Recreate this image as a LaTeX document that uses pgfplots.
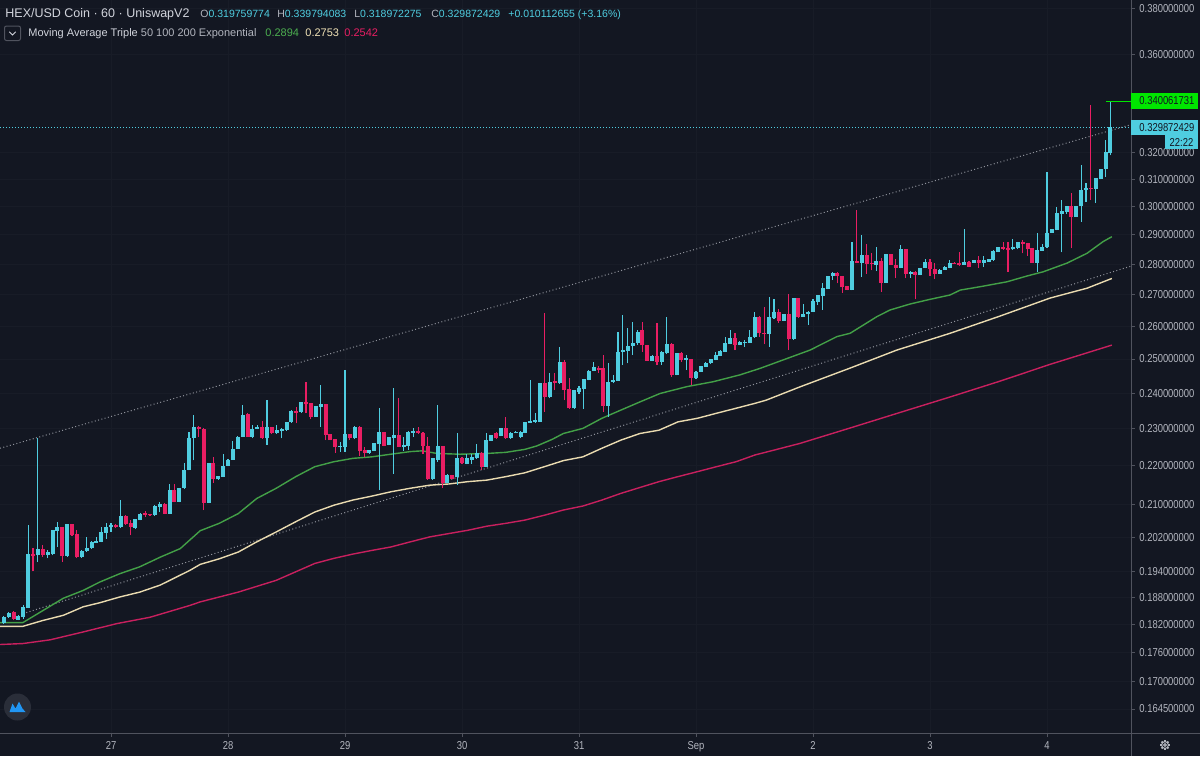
\documentclass[border=0pt]{standalone}
\usepackage{pgfplots}
\usepackage{pgfplotstable}
\pgfplotsset{compat=1.18}
\usepackage{fontspec}
\setmainfont{Liberation Sans}
\newfontfamily\scalefont{Liberation Sans}[FakeStretch=0.82]

\definecolor{bg}{HTML}{131722}
\definecolor{upc}{HTML}{4FCDE0}
\definecolor{dnc}{HTML}{E91E63}
\definecolor{emaA}{HTML}{43A047}
\definecolor{emaB}{HTML}{EADBB0}
\definecolor{emaC}{HTML}{C8205E}
\definecolor{trend}{HTML}{8F929B}
\definecolor{sepc}{HTML}{50535E}
\definecolor{gridc}{HTML}{181C27}
\definecolor{lbl}{HTML}{B2B5BE}
\definecolor{txt}{HTML}{D1D4DC}
\definecolor{lime}{HTML}{00E600}
\definecolor{valA}{HTML}{4CAF50}
\definecolor{valB}{HTML}{F0E2B6}
\definecolor{logoc}{HTML}{2A2E39}
\definecolor{logob}{HTML}{2196F3}

\newcommand\axfont{\scalefont\fontsize{5.75pt}{6pt}\selectfont}

% hourly candles: h = hours since 27 Aug 00:00, open high low close
\pgfplotstableread{
h o hi lo c
-22 .1823 .1838 .1822 .1837
-21 .1836 .1847 .1835 .1845
-19 .1831 .1840 .1829 .1838
-18 .1837 .1862 .1832 .1859
-17 .1857 .2050 .1856 .1980
-15 .1977 .2274 .1961 .1993
-13 .1979 .1989 .1970 .1985
-12 .1981 .2038 .1977 .2037
-11 .2036 .2058 .1997 .2044
-9 .1975 .2053 .1974 .2052
-6 .1972 .1989 .1971 .1987
-5 .1987 .2020 .1986 .1995
-4 .1995 .2011 .1993 .2009
-3 .2007 .2021 .2006 .2012
-2 .2009 .2044 .2008 .2033
-1 .2031 .2054 .2017 .2046
0 .2044 .2054 .2033 .2050
2 .2044 .2112 .2042 .2072
5 .2042 .2065 .2040 .2064
6 .2062 .2079 .2061 .2078
9 .2074 .2099 .2073 .2097
10 .2095 .2107 .2083 .2103
12 .2078 .2153 .2077 .2137
14 .2107 .2143 .2106 .2142
15 .2142 .2207 .2141 .2189
16 .2189 .2292 .2188 .2274
17 .2274 .2338 .2215 .2304
20 .2105 .2209 .2104 .2208
22 .2165 .2174 .2164 .2173
23 .2172 .2231 .2171 .2200
24 .2200 .2218 .2199 .2217
25 .2217 .2267 .2216 .2246
26 .2246 .2279 .2245 .2278
27 .2278 .2366 .2277 .2338
29 .2278 .2310 .2274 .2299
30 .2299 .2310 .2298 .2305
32 .2274 .2381 .2256 .2304
34 .2287 .2310 .2285 .2296
35 .2293 .2302 .2274 .2299
36 .2296 .2319 .2295 .2318
37 .2318 .2352 .2317 .2350
39 .2346 .2375 .2345 .2374
42 .2333 .2364 .2332 .2363
43 .2361 .2424 .2305 .2368
47 .2249 .2265 .2237 .2254
48 .2251 .2467 .2237 .2285
50 .2274 .2307 .2273 .2306
53 .2233 .2243 .2232 .2242
54 .2240 .2261 .2239 .2260
55 .2258 .2357 .2137 .2290
57 .2256 .2278 .2255 .2277
58 .2274 .2414 .2180 .2283
60 .2251 .2278 .2240 .2256
61 .2254 .2293 .2242 .2292
62 .2289 .2301 .2277 .2295
66 .2165 .2221 .2163 .2220
67 .2217 .2366 .2211 .2253
69 .2156 .2178 .2155 .2176
71 .2170 .2287 .2150 .2222
73 .2205 .2231 .2204 .2220
74 .2217 .2231 .2205 .2223
75 .2220 .2258 .2219 .2235
77 .2198 .2287 .2197 .2269
78 .2267 .2284 .2266 .2283
80 .2280 .2302 .2279 .2301
82 .2274 .2290 .2273 .2289
83 .2288 .2293 .2287 .2292
84 .2277 .2293 .2274 .2292
85 .2289 .2320 .2288 .2319
86 .2317 .2438 .2316 .2322
87 .2318 .2343 .2317 .2323
88 .2319 .2429 .2318 .2428
90 .2390 .2458 .2385 .2433
92 .2428 .2537 .2427 .2492
95 .2357 .2410 .2356 .2409
96 .2404 .2420 .2398 .2414
97 .2411 .2441 .2356 .2440
98 .2438 .2467 .2437 .2465
99 .2465 .2492 .2464 .2475
102 .2363 .2489 .2332 .2433
103 .2433 .2453 .2428 .2438
104 .2436 .2583 .2435 .2522
105 .2522 .2635 .2482 .2528
106 .2525 .2594 .2487 .2540
107 .2540 .2612 .2512 .2548
108 .2547 .2589 .2542 .2583
111 .2495 .2512 .2494 .2510
113 .2492 .2523 .2482 .2522
114 .2517 .2630 .2516 .2545
116 .2453 .2518 .2452 .2517
118 .2497 .2512 .2467 .2503
120 .2443 .2463 .2442 .2462
121 .2462 .2480 .2461 .2479
122 .2477 .2490 .2476 .2489
123 .2487 .2500 .2486 .2499
124 .2497 .2522 .2496 .2512
125 .2509 .2526 .2508 .2525
126 .2522 .2568 .2521 .2547
127 .2545 .2587 .2544 .2565
129 .2542 .2553 .2541 .2552
130 .2547 .2558 .2537 .2552
131 .2549 .2587 .2548 .2568
132 .2566 .2646 .2565 .2630
135 .2576 .2692 .2537 .2628
136 .2625 .2686 .2624 .2646
138 .2617 .2639 .2616 .2638
140 .2560 .2689 .2559 .2688
142 .2630 .2670 .2629 .2638
143 .2638 .2647 .2604 .2646
144 .2646 .2685 .2645 .2681
145 .2677 .2700 .2667 .2699
146 .2696 .2737 .2651 .2721
147 .2718 .2762 .2717 .2761
148 .2761 .2773 .2748 .2772
152 .2715 .2874 .2714 .2811
154 .2806 .2900 .2757 .2831
157 .2798 .2859 .2777 .2811
159 .2739 .2835 .2738 .2834
162 .2787 .2866 .2786 .2852
164 .2768 .2776 .2754 .2775
166 .2764 .2788 .2763 .2787
167 .2787 .2817 .2786 .2809
170 .2768 .2783 .2767 .2782
171 .2782 .2793 .2781 .2791
172 .2787 .2815 .2786 .2806
175 .2798 .2920 .2797 .2809
177 .2806 .2816 .2805 .2815
179 .2806 .2828 .2791 .2813
180 .2809 .2818 .2808 .2817
181 .2813 .2847 .2812 .2846
182 .2842 .2858 .2841 .2857
185 .2850 .2885 .2849 .2857
186 .2854 .2875 .2850 .2874
190 .2806 .2908 .2775 .2849
191 .2846 .2869 .2845 .2857
192 .2857 .3128 .2856 .2908
193 .2908 .2921 .2907 .2920
194 .2917 .3000 .2916 .2978
195 .2975 .3024 .2840 .2985
196 .2982 .3004 .2973 .3003
198 .2964 .3002 .2963 .3001
199 .3001 .3153 .2946 .3061
200 .3061 .3085 .3018 .3067
202 .3064 .3105 .3013 .3104
203 .3100 .3138 .3099 .3137
204 .3137 .3249 .3110 .3204
205 .319759774 .339794083 .318972275 .329872429
}\upbars

\pgfplotstableread{
h o hi lo c
-20 .1847 .1849 .1829 .1832
-16 .1980 .1994 .1940 .1975
-14 .1993 .2001 .1973 .1979
-10 .2044 .2046 .1961 .1975
-8 .2052 .2053 .2024 .2025
-7 .2028 .2037 .1970 .1972
1 .2050 .2052 .2042 .2044
3 .2072 .2074 .2050 .2052
4 .2054 .2062 .2025 .2046
7 .2079 .2085 .2070 .2075
8 .2077 .2078 .2073 .2074
11 .2103 .2104 .2077 .2078
13 .2137 .2154 .2106 .2107
18 .2304 .2308 .2278 .2299
19 .2299 .2301 .2087 .2105
21 .2208 .2224 .2156 .2165
28 .2341 .2344 .2277 .2278
31 .2304 .2322 .2273 .2274
33 .2304 .2305 .2285 .2287
38 .2350 .2361 .2315 .2345
40 .2374 .2433 .2345 .2368
41 .2371 .2372 .2326 .2333
44 .2368 .2369 .2269 .2283
45 .2285 .2286 .2268 .2269
46 .2271 .2272 .2235 .2249
49 .2285 .2286 .2269 .2274
51 .2306 .2307 .2226 .2240
52 .2242 .2251 .2223 .2235
56 .2290 .2291 .2253 .2254
59 .2283 .2385 .2250 .2251
63 .2294 .2304 .2286 .2289
64 .2289 .2290 .2231 .2254
65 .2254 .2278 .2164 .2165
68 .2253 .2254 .2142 .2156
70 .2176 .2177 .2165 .2167
72 .2222 .2223 .2206 .2207
76 .2235 .2236 .2189 .2198
79 .2289 .2292 .2273 .2274
81 .2301 .2332 .2273 .2274
89 .2428 .2641 .2347 .2390
91 .2435 .2458 .2409 .2428
93 .2492 .2497 .2380 .2409
94 .2411 .2443 .2356 .2357
100 .2474 .2479 .2458 .2467
101 .2472 .2512 .2347 .2363
109 .2587 .2612 .2522 .2542
110 .2542 .2543 .2494 .2495
112 .2510 .2609 .2482 .2492
115 .2545 .2548 .2448 .2453
117 .2517 .2522 .2492 .2497
119 .2499 .2500 .2424 .2443
128 .2565 .2578 .2527 .2542
133 .2630 .2631 .2568 .2578
134 .2580 .2662 .2545 .2575
137 .2646 .2655 .2611 .2617
139 .2638 .2702 .2527 .2560
141 .2688 .2689 .2625 .2630
149 .2772 .2773 .2737 .2761
150 .2761 .2762 .2707 .2726
151 .2728 .2729 .2714 .2715
153 .2811 .2988 .2804 .2805
155 .2831 .2869 .2768 .2802
156 .2806 .2839 .2780 .2801
158 .2811 .2820 .2710 .2739
160 .2834 .2835 .2797 .2798
161 .2798 .2818 .2754 .2787
163 .2852 .2853 .2754 .2768
165 .2775 .2776 .2685 .2764
168 .2809 .2817 .2761 .2784
169 .2784 .2806 .2751 .2768
173 .2806 .2807 .2801 .2802
174 .2806 .2842 .2793 .2798
176 .2809 .2810 .2790 .2791
178 .2815 .2828 .2787 .2806
183 .2857 .2877 .2849 .2850
184 .2854 .2874 .2775 .2849
187 .2877 .2883 .2837 .2869
188 .2871 .2872 .2828 .2850
189 .2854 .2855 .2804 .2806
197 .3003 .3050 .2854 .2964
201 .3067 .3388 .3024 .3064
}\dnbars

\begin{document}
\begin{tikzpicture}
\path[use as bounding box] (0,0) rectangle (600pt,-378pt);
\fill[bg] (0,0) rectangle (600pt,-378pt);

\begin{axis}[
  at={(0,0)}, anchor=north west,
  scale only axis, width=565.5pt, height=366.5pt,
  xmin=-22.77, xmax=209.23,
  ymode=log, ymin=0.15984, ymax=0.38413,
  axis x line*=bottom, axis y line*=right,
  axis line style={draw=none},
  tick align=outside, major tick length=2pt,
  tick style={draw=sepc, line width=0.5pt},
  minor tick num=0,
  grid=major, grid style={draw=gridc, line width=0.5pt},
  xtick={0,24,...,192},
  xticklabels={27,28,29,30,31,Sep,2,3,4},
  ytick={0.38,0.36,0.32,0.31,0.30,0.29,0.28,0.27,0.26,0.25,0.24,0.23,0.22,0.21,0.202,0.194,0.188,0.182,0.176,0.17,0.1645},
  yticklabels={0.380000000,0.360000000,0.320000000,0.310000000,0.300000000,0.290000000,0.280000000,0.270000000,0.260000000,0.250000000,0.240000000,0.230000000,0.220000000,0.210000000,0.202000000,0.194000000,0.188000000,0.182000000,0.176000000,0.170000000,0.164500000},
  ticklabel style={font=\axfont, text=lbl, inner sep=0pt},
  yticklabel style={anchor=west, xshift=2pt},
  xticklabel style={anchor=north, yshift=-2pt},
]
% channel lines and price line
\addplot[trend, line width=0.5pt, dash pattern=on 0.5pt off 1.2pt] coordinates {(-22.77,0.2247) (209.23,0.3309)};
\addplot[trend, line width=0.5pt, dash pattern=on 0.5pt off 1.2pt] coordinates {(-18.05,0.1844) (209.23,0.2794)};
\addplot[upc, line width=0.5pt, dash pattern=on 0.5pt off 1pt] coordinates {(-22.77,0.329872429) (209.23,0.329872429)};
\addplot[lime, line width=0.6pt] coordinates {(204.1,0.340061731) (209.23,0.340061731)};

% moving averages
\addplot[emaC, line width=0.7pt] coordinates {
(-22.8,.1777) (-18.1,.1779) (-12.5,.1787) (-5.7,.1804) (1.2,.1822) (8.0,.1836)
(16.2,.1862) (18.3,.1870) (26.1,.1892) (33.9,.1919) (41.8,.1958) (45.7,.1970)
(49.6,.1980) (53.5,.1989) (57.4,.1997) (61.4,.2009) (65.4,.2021) (69.3,.2029)
(73.2,.2037) (77.1,.2047) (81.0,.2054) (84.9,.2062) (88.9,.2074) (92.8,.2087)
(96.8,.2097) (100.7,.2112) (104.6,.2129) (108.5,.2144) (112.4,.2159) (116.3,.2172)
(120.3,.2185) (124.2,.2198) (128.2,.2211) (132.1,.2229) (136.0,.2242) (141.3,.2260)
(151.6,.2302) (161.8,.2345) (172.1,.2389) (182.4,.2435) (192.6,.2484) (205.3,.2542)};
\addplot[emaB, line width=0.7pt] coordinates {
(-22.8,.1816) (-18.1,.1816) (-13.9,.1829) (-9.8,.1840) (-5.7,.1859) (-2.3,.1868)
(1.8,.1881) (5.9,.1892) (10.1,.1908) (16.2,.1942) (18.3,.1956) (22.2,.1969)
(26.1,.1985) (29.9,.2009) (33.9,.2033) (37.9,.2058) (41.8,.2082) (45.7,.2099)
(49.6,.2112) (53.5,.2122) (57.4,.2133) (61.4,.2142) (65.4,.2150) (69.3,.2153)
(73.2,.2159) (77.1,.2163) (81.0,.2172) (84.9,.2182) (88.9,.2198) (92.8,.2214)
(96.8,.2224) (100.7,.2247) (104.6,.2269) (108.5,.2287) (112.4,.2296) (116.3,.2319)
(120.3,.2329) (124.2,.2343) (128.2,.2357) (132.1,.2371) (134.4,.2380) (141.3,.2418)
(151.6,.2473) (161.2,.2527) (172.1,.2578) (182.4,.2632) (192.6,.2689) (200.2,.2721)
(205.3,.2753)};
\addplot[emaA, line width=0.7pt] coordinates {
(-22.8,.1824) (-18.1,.1824) (-13.9,.1851) (-9.8,.1878) (-5.7,.1896) (-2.3,.1915)
(1.8,.1934) (5.9,.1950) (10.1,.1973) (14.2,.1993) (18.3,.2036) (22.2,.2054)
(26.1,.2078) (29.9,.2116) (33.9,.2142) (37.9,.2172) (41.8,.2198) (45.7,.2211)
(49.6,.2220) (53.5,.2224) (57.4,.2231) (61.4,.2238) (63.8,.2240) (66.9,.2233)
(71.6,.2231) (77.1,.2233) (81.0,.2236) (84.9,.2244) (87.3,.2253) (90.5,.2271)
(92.8,.2287) (96.8,.2301) (100.7,.2329) (104.6,.2352) (108.5,.2375) (112.6,.2399)
(118.2,.2419) (123.5,.2433) (129.0,.2453) (133.1,.2472) (143.4,.2527) (148.9,.2568)
(151.6,.2578) (157.1,.2630) (159.8,.2651) (163.9,.2670) (168.0,.2685) (172.1,.2699)
(174.2,.2715) (178.3,.2726) (183.8,.2742) (187.9,.2761) (191.2,.2775) (196.1,.2804)
(200.2,.2837) (203.5,.2877) (205.3,.2894)};

% candle wicks
\addplot[draw=none, forget plot, error bars/.cd, y dir=plus, y explicit, error mark=none,
  error bar style={draw=upc, line width=0.55pt}]
  table[x=h, y=lo, y error expr=\thisrow{hi}-\thisrow{lo}] {\upbars};
\addplot[draw=none, forget plot, error bars/.cd, y dir=plus, y explicit, error mark=none,
  error bar style={draw=dnc, line width=0.55pt}]
  table[x=h, y=lo, y error expr=\thisrow{hi}-\thisrow{lo}] {\dnbars};
% candle bodies
\addplot[draw=none, forget plot, error bars/.cd, y dir=plus, y explicit, error mark=none,
  error bar style={draw=upc, line width=2pt}]
  table[x=h, y=o, y error expr=\thisrow{c}-\thisrow{o}] {\upbars};
\addplot[draw=none, forget plot, error bars/.cd, y dir=plus, y explicit, error mark=none,
  error bar style={draw=dnc, line width=2pt}]
  table[x=h, y=c, y error expr=\thisrow{o}-\thisrow{c}] {\dnbars};
\end{axis}

\begin{scope}[x=0.5pt, y=-0.5pt]
% scale separators
\draw[sepc, line width=0.5pt] (1131,0) -- (1131,756);
\draw[sepc, line width=0.5pt] (0,733) -- (1200,733);

% price labels on the scale
\fill[lime] (1131,93) rectangle (1198,108.5);
\node[anchor=west, inner sep=0pt, text=bg, font=\axfont] at (1139,100.7) {0.340061731};
\fill[upc] (1131,119.5) rectangle (1198,135);
\node[anchor=west, inner sep=0pt, text=bg, font=\axfont] at (1139,127.3) {0.329872429};
\fill[upc] (1165,135) rectangle (1198,149);
\node[anchor=center, inner sep=0pt, text=bg, font=\axfont] at (1181.5,142) {22:22};

% header
\node[anchor=base west, inner sep=0pt, text=txt, font=\fontsize{6.25pt}{7pt}\selectfont] at (5,17.7) {HEX/USD Coin · 60 · UniswapV2};
\begin{scope}[every node/.style={anchor=base west, inner sep=0pt, font=\fontsize{5.25pt}{6pt}\selectfont}]
\node at (200,17.5) {\textcolor{lbl}{O}\textcolor{upc}{0.319759774}};
\node at (277,17.5) {\textcolor{lbl}{H}\textcolor{upc}{0.339794083}};
\node at (354,17.5) {\textcolor{lbl}{L}\textcolor{upc}{0.318972275}};
\node at (431,17.5) {\textcolor{lbl}{C}\textcolor{upc}{0.329872429}};
\node at (508,17.5) {\textcolor{upc}{+0.010112655 (+3.16\%)}};
\end{scope}
\draw[sepc, line width=0.5pt, rounded corners=1pt] (4.5,26) rectangle (20.5,40.5);
\draw[txt, line width=0.5pt] (9.3,31.8) -- (12.5,35) -- (15.7,31.8);
\begin{scope}[every node/.style={anchor=base west, inner sep=0pt, font=\fontsize{5.5pt}{6pt}\selectfont}]
\node at (28,36.7) {\textcolor{txt}{Moving Average Triple} \textcolor{lbl}{50 100 200 Exponential}};
\node at (265,36.7) {\textcolor{valA}{0.2894}};
\node at (305,36.7) {\textcolor{valB}{0.2753}};
\node at (344,36.7) {\textcolor{dnc}{0.2542}};
\end{scope}

% corner logo
\fill[logoc] (17.5,707) circle (13.5);
\fill[logob] (9.5,712) -- (12.5,703.5) -- (15.5,708.5) -- (19,701.5) -- (22.5,708.5) -- (25.5,712) -- cycle;

% settings gear
\draw[lbl, line width=0.5pt] (1165,745) circle (3.4);
\draw[lbl, line width=0.5pt] (1165,745) circle (1.4);
\foreach \a in {0,45,...,315} \draw[lbl, line width=1pt] (1165,745) ++(\a:3.4) -- ++(\a:1.4);
\end{scope}
\end{tikzpicture}
\end{document}
